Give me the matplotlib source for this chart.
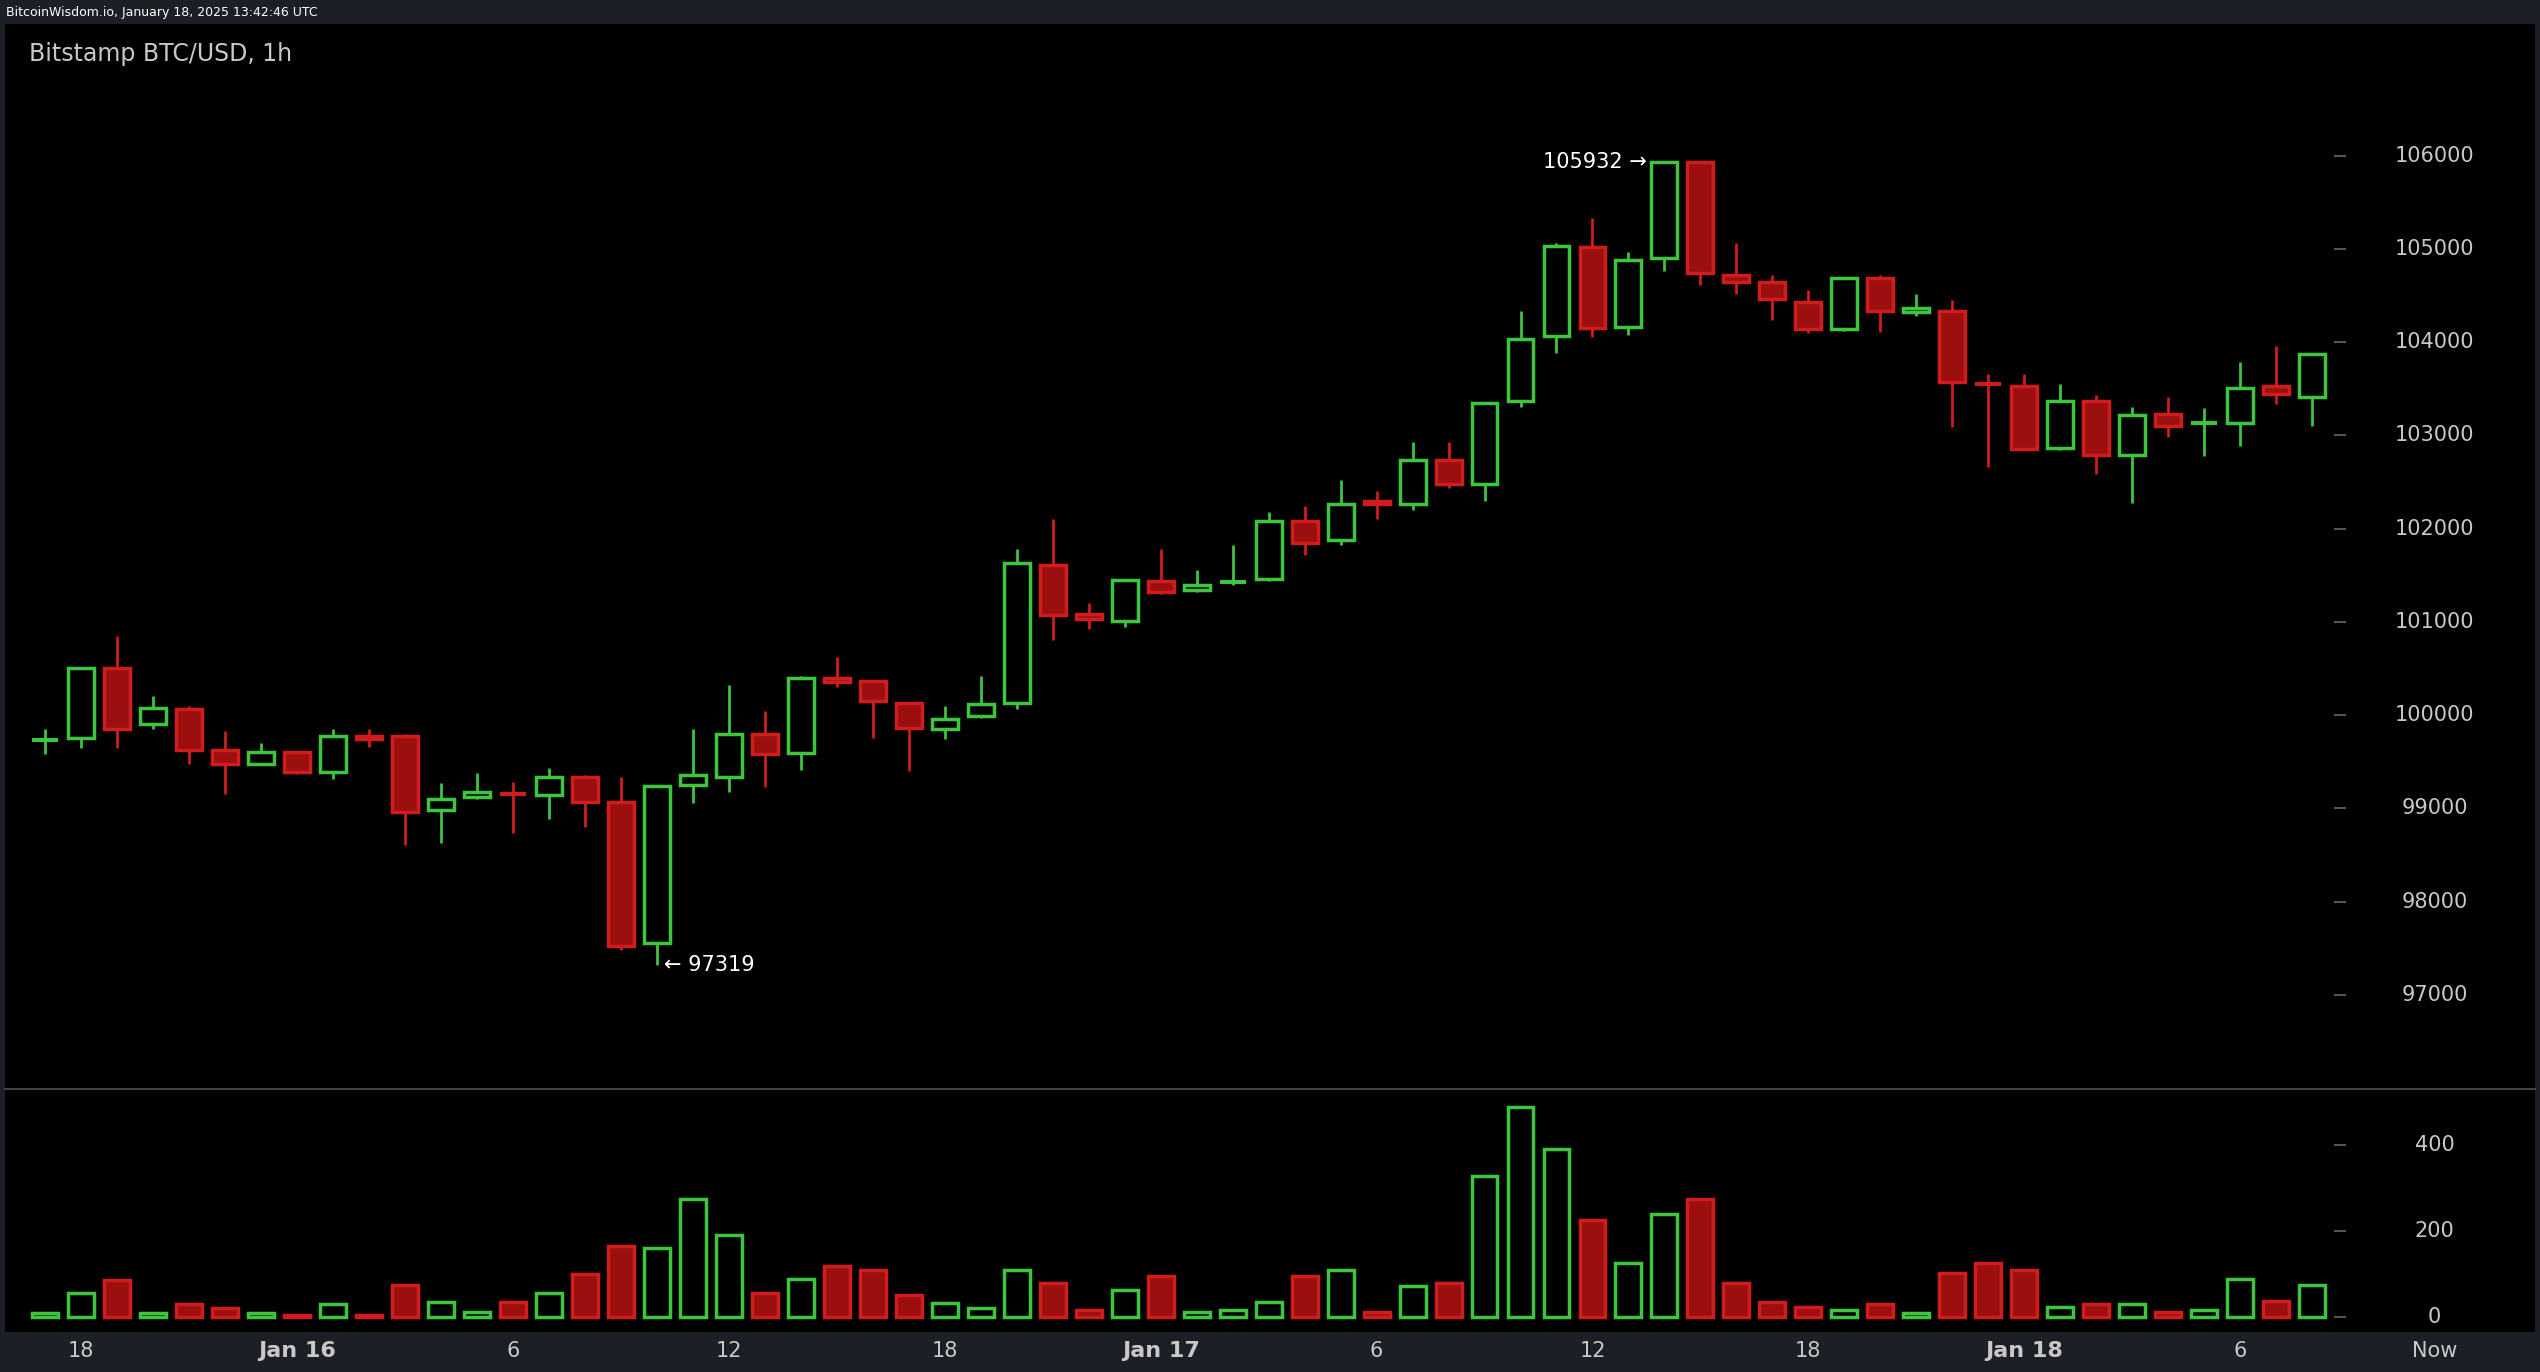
import numpy as np
import matplotlib.pyplot as plt

# hourly candles, Jan 15 17:00 -> Jan 18 08:00 (UTC)
opens = [99720, 99750, 100500, 99900, 100060, 99620, 99480, 99600, 99390, 99780,
         99780, 98980, 99120, 99160, 99140, 99340, 99070, 97560, 99250, 99340,
         99800, 99590, 100400, 100370, 100130, 99850, 99990, 100130, 101610, 101080,
         101010, 101440, 101340, 101410, 101460, 102080, 101880, 102300, 102260, 102730,
         102480, 103370, 104060, 105020, 104160, 104900, 105930, 104720, 104640, 104430,
         104140, 104690, 104320, 104330, 103560, 103530, 102860, 103370, 102790, 103230,
         103120, 103130, 103530, 103410]
highs = [99850, 100520, 100850, 100200, 100100, 99830, 99700, 99600, 99850, 99850,
         99800, 99270, 99380, 99280, 99430, 99360, 99340, 99240, 99850, 100320,
         100040, 100420, 100620, 100380, 100130, 100100, 100420, 101780, 102100, 101200,
         101460, 101780, 101550, 101820, 102180, 102240, 102520, 102400, 102930, 102930,
         103360, 104330, 105060, 105330, 104960, 105932, 105930, 105060, 104720, 104560,
         104700, 104720, 104520, 104450, 103660, 103660, 103550, 103430, 103300, 103410,
         103290, 103790, 103960, 103880]
lows = [99580, 99650, 99650, 99850, 99480, 99150, 99460, 99370, 99310, 99660,
        98610, 98630, 99100, 98740, 98890, 98800, 97480, 97319, 99060, 99180,
        99230, 99410, 100300, 99750, 99400, 99740, 99970, 100060, 100800, 100920,
        100940, 101300, 101320, 101390, 101440, 101720, 101820, 102100, 102200, 102430,
        102300, 103300, 103880, 104050, 104080, 104760, 104610, 104520, 104240, 104100,
        104120, 104110, 104280, 103090, 102660, 102840, 102840, 102580, 102270, 102980,
        102780, 102880, 103340, 103100]
closes = [99740, 100500, 99850, 100080, 99630, 99480, 99600, 99390, 99780, 99740,
          98960, 99100, 99180, 99140, 99340, 99070, 97520, 99240, 99360, 99800,
          99580, 100400, 100350, 100150, 99860, 99960, 100120, 101630, 101070, 101030,
          101450, 101320, 101390, 101440, 102080, 101850, 102260, 102260, 102740, 102480,
          103350, 104030, 105030, 104150, 104880, 105932, 104740, 104640, 104460, 104140,
          104690, 104330, 104360, 103570, 103540, 102850, 103370, 102790, 103220, 103100,
          103150, 103510, 103440, 103870]
volumes = [8, 55, 85, 8, 30, 20, 8, 5, 30, 4,
           75, 35, 12, 35, 55, 100, 165, 160, 275, 190,
           55, 88, 118, 110, 50, 33, 20, 110, 78, 16,
           62, 95, 12, 15, 34, 95, 110, 12, 72, 78,
           328, 490, 392, 226, 125, 240, 275, 78, 35, 22,
           15, 30, 8, 102, 125, 110, 22, 30, 30, 12,
           15, 88, 38, 75]
price_ticks = [97000, 98000, 99000, 100000, 101000, 102000, 103000, 104000, 105000, 106000]
vol_ticks = [0, 200, 400]
x_labels = ['18', 'Jan 16', '6', '12', '18', 'Jan 17', '6', '12', '18', 'Jan 18', '6']
x_label_pos = [1, 7, 13, 19, 25, 31, 37, 43, 49, 55, 61]

GREEN = '#3ec43e'
RED_EDGE = '#d01c1c'
RED_FACE = '#9b0f0f'
TXT = '#c8c8c8'
FRAME = '#1c1f26'

W, H = 1568, 847  # layout units (reference at reduced scale)
fig = plt.figure(figsize=(25.4, 13.72), dpi=100, facecolor=FRAME)


def box(x0, y0, x1, y1):
    return [x0 / W, 1 - y1 / H, (x1 - x0) / W, (y1 - y0) / H]


ax = fig.add_axes(box(3, 15, 1565, 672))
axv = fig.add_axes(box(3, 672, 1565, 822), sharex=ax)
for a in (ax, axv):
    a.set_facecolor('black')
    for s in a.spines.values():
        s.set_visible(False)
    a.tick_params(left=False, bottom=False, labelleft=False, labelbottom=False)

n = len(opens)
idx = np.arange(n)
ax.set_xlim(-1.125, 69.2)
ax.set_ylim(95995, 107407)
axv.set_ylim(-34, 532)

bw = 0.72
for i in idx:
    o, h, l, c = opens[i], highs[i], lows[i], closes[i]
    up = c >= o
    col = GREEN if up else RED_EDGE
    ax.vlines(i, l, h, color=col, lw=2, zorder=2)
    lo, hi = min(o, c), max(o, c)
    if hi - lo < 40:
        ax.hlines((o + c) / 2, i - bw / 2, i + bw / 2, color=col, lw=3, zorder=3)
    else:
        ax.bar(i, hi - lo, bottom=lo, width=bw, facecolor='black' if up else RED_FACE,
               edgecolor=col, linewidth=2.5, zorder=3)
    axv.bar(i, volumes[i], width=bw, facecolor='black' if up else RED_FACE,
            edgecolor=col, linewidth=2.5, zorder=3)

# right-side price scale
for p in price_ticks:
    ax.hlines(p, 63.6, 63.95, color='#555555', lw=1.5)
    ax.text(66.4, p, str(p), color=TXT, fontsize=15, ha='center', va='center')
for v in vol_ticks:
    axv.hlines(v, 63.6, 63.95, color='#555555', lw=1.5)
    axv.text(66.4, v, str(v), color=TXT, fontsize=15, ha='center', va='center')

# separator between panels
fig.add_artist(plt.Line2D([3 / W, 1565 / W], [1 - 672 / H] * 2, color='#444444', lw=1.5))

# time axis labels
for pos, lab in zip(x_label_pos, x_labels):
    bold = lab.startswith('Jan')
    fig.text((3 + (pos + 1.125) * 1562 / 70.325) / W, 1 - 834 / H, lab, color=TXT,
             fontsize=16 if bold else 15, fontweight='bold' if bold else 'normal',
             ha='center', va='center')
fig.text((3 + (66.4 + 1.125) * 1562 / 70.325) / W, 1 - 834 / H, 'Now', color=TXT,
         fontsize=15, ha='center', va='center')

# high / low annotations
imax = int(np.argmax(highs))
imin = int(np.argmin(lows))
ax.text(imax - 0.5, highs[imax], f'{highs[imax]} \u2192', color='white', fontsize=15,
        ha='right', va='center')
ax.text(imin + 0.2, lows[imin], f'\u2190 {lows[imin]}', color='white', fontsize=15,
        ha='left', va='center')

ax.text(0.0095, 0.972, 'Bitstamp BTC/USD, 1h', transform=ax.transAxes, color=TXT,
        fontsize=17, ha='left', va='center')
fig.text(4 / W, 1 - 8 / H, 'BitcoinWisdom.io, January 18, 2025 13:42:46 UTC',
         color='white', fontsize=9, ha='left', va='center')

fig.savefig('out.png', dpi=100, facecolor=FRAME)
